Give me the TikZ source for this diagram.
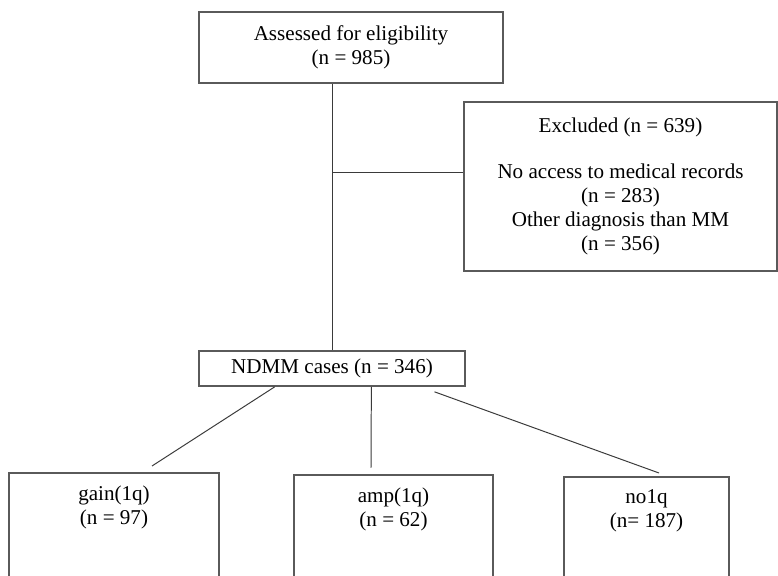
\documentclass[tikz,border=0pt]{standalone}
\usepackage{fontspec}
\setmainfont{Liberation Serif}
\usepackage{tikz}
\usetikzlibrary{positioning, calc}
\usepackage{xcolor}
\definecolor{boxgray}{HTML}{5A5A5A}
\definecolor{linegray}{HTML}{3A3A3A}

\begin{document}
\begin{tikzpicture}[
  x=0.025cm, y=-0.025cm,
  box/.style={rectangle, draw=boxgray, line width=1.2pt, align=center,
    font=\fontsize{15}{17}\selectfont, inner sep=2pt},
  leaf/.style={box, anchor=north, inner ysep=0.33cm, text depth=3cm},
  conn/.style={linegray, line width=0.7pt},
]
  \useasboundingbox (0,0) rectangle (778,576);

  \node[box, minimum width=7.6cm, minimum height=1.775cm] (elig) at (351,47.5)
    {Assessed for eligibility\\(n = 985)};
  \node[box, minimum width=7.825cm, minimum height=4.225cm] (excl) at (620.5,186.5)
    {Excluded (n = 639)\\[0.55cm]No access to medical records\\(n = 283)\\Other diagnosis than MM\\(n = 356)};
  \node[box, minimum width=6.65cm, minimum height=0.875cm] (ndmm) at (332,368.5)
    {NDMM cases (n = 346)};

  \node[leaf, minimum width=5.25cm] (gain) at (114,472) {gain(1q)\\(n = 97)};
  \node[leaf, minimum width=4.975cm] (amp) at (393.5,474) {amp(1q)\\(n = 62)};
  \node[leaf, minimum width=4.125cm] (no1q) at (646.5,476) {no1q\\(n= 187)};

  \coordinate (branch) at ($(ndmm.north)+(1,-178)$);

  \draw[conn] (ndmm.north |- elig.south) -- (ndmm.north);
  \draw[conn] (branch) -- (branch -| excl.west);

  \draw[conn] ($(ndmm.south west)!0.286!(ndmm.south east)$) -- ($(gain.north)+(38,-6)$);
  \draw[conn] ($(ndmm.south west)!0.647!(ndmm.south east)$) -- ($(amp.north)+(-22.5,-6)$);
  \draw[conn] ($(ndmm.south west)!0.883!(ndmm.south east)+(0,5)$) -- ($(no1q.north)+(12.5,-3)$);
\end{tikzpicture}
\end{document}
